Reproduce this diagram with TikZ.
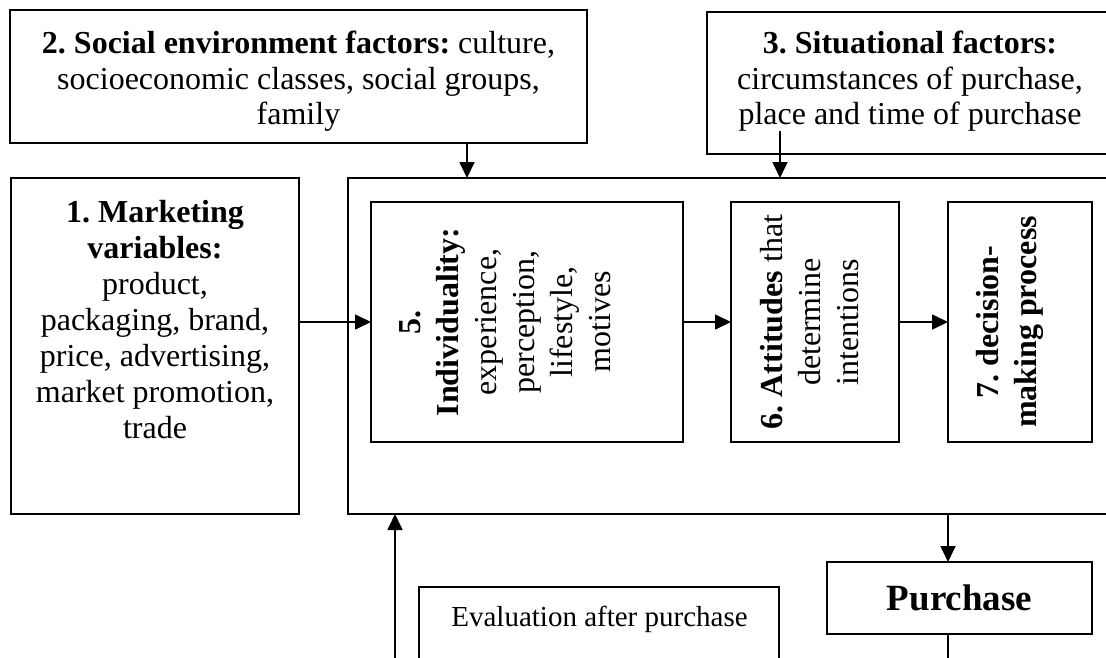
\documentclass[tikz,border=0pt]{standalone}
\usepackage{fontspec}
\setmainfont{Liberation Serif}
\usetikzlibrary{arrows.meta}
\frenchspacing
\begin{document}
\begin{tikzpicture}[x=1pt,y=-1pt,
  box/.style={draw, line width=1.8pt, inner sep=0pt, outer sep=0pt, anchor=north west},
  txt/.style={inner sep=0pt, align=center, font=\fontsize{32}{35.5}\selectfont},
  vtxt/.style={txt, rotate=90, anchor=north, font=\fontsize{32}{38}\selectfont},
  arr/.style={line width=1.7pt, -{Triangle[length=16pt,width=15pt]}},
  link/.style={line width=1.7pt}]
\useasboundingbox (0,0) rectangle (1106,657);
\clip (0,0) rectangle (1106,657);

% outside influences
\node[box, minimum width=577pt, minimum height=133pt] (b2) at (10,10) {};
\node[txt, anchor=north] (t2) at (298.5,31)
  {\textbf{2. Social environment factors:} culture,\\ socioeconomic classes, social groups,\\ family};

\node[box, minimum width=406pt, minimum height=142pt] (b3) at (707,12) {};
\node[txt, anchor=north] (t3) at (910,31)
  {\textbf{3. Situational factors:}\\ circumstances of purchase,\\ place and time of purchase};

\node[box, minimum width=288pt, minimum height=336pt] (b1) at (11,178) {};
\node[txt, anchor=north, font=\fontsize{32}{36}\selectfont] (t1) at (155,200)
  {\textbf{1. Marketing}\\ \textbf{variables:}\\ product,\\ packaging, brand,\\ price, advertising,\\ market promotion,\\ trade};

% the buyer's inner process
\node[box, minimum width=800pt, minimum height=336pt] (main) at (348,178) {};

\node[box, minimum width=312pt, minimum height=240pt] (b5) at (371,202) {};
\node[vtxt] (t5) at (399,322)
  {\textbf{5.}\\ \textbf{Individuality:}\\ experience,\\ perception,\\ lifestyle,\\ motives};

\node[box, minimum width=168pt, minimum height=240pt] (b6) at (731,202) {};
\node[vtxt] (t6) at (760,322)
  {\textbf{6. Attitudes} that\\ determine\\ intentions};

\node[box, minimum width=144pt, minimum height=240pt] (b7) at (948,202) {};
\node[vtxt] (t7) at (976,322)
  {\textbf{7. decision-}\\ \textbf{making process}};

% outcome and feedback
\node[box, minimum width=265pt, minimum height=72pt,
      font=\fontsize{37}{40}\selectfont\bfseries] (pur) at (827,562) {Purchase};

\node[box, minimum width=360pt, minimum height=120pt] (ev) at (419,587) {};
\node[txt, anchor=base, font=\fontsize{29}{32}\selectfont] (tev) at (599.5,626)
  {Evaluation after purchase};

% connector guides
\coordinate (x2) at (467,0);
\coordinate (s3) at (780,131);
\coordinate (xp) at (948,0);
\coordinate (xu) at (395,0);
\coordinate (foot) at (0,665);

\draw[arr] (b2.south -| x2) -- (main.north -| x2);
\draw[arr] (s3) -- (main.north -| s3);
\draw[arr] (b1.east |- b5.west) -- (b5.west);
\draw[arr] (b5.east) -- (b6.west);
\draw[arr] (b6.east) -- (b7.west);
\draw[arr] (main.south -| xp) -- (pur.north -| xp);
\draw[link] (pur.south -| xp) -- (foot -| xp);
\draw[arr] (foot -| xu) -- (main.south -| xu);
\end{tikzpicture}
\end{document}
